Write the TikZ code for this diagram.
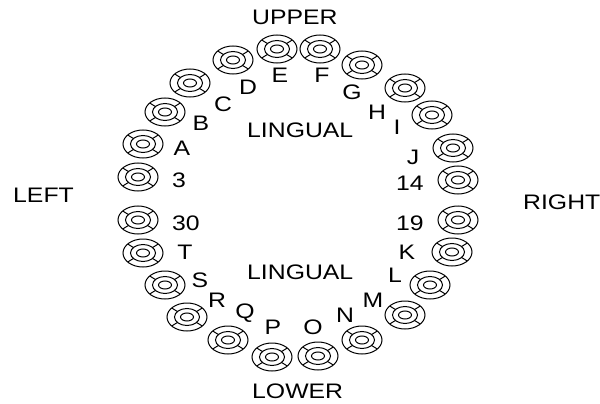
\documentclass[tikz,border=0pt]{standalone}
\usepackage{fontspec}
\newfontfamily\chartfont[FakeStretch=1.18]{Liberation Sans}
\usepackage{tikz}
\usetikzlibrary{positioning}

\tikzset{
  lbl/.style={font=\chartfont\fontsize{21}{21}\selectfont, inner sep=0pt},
  tooth/.pic={
    \draw[line width=1pt] (0,0) ellipse [x radius=20pt, y radius=14pt];
    \draw[line width=1pt] (0,0) ellipse [x radius=12.5pt, y radius=8.5pt];
    \draw[line width=1pt] (0,0) ellipse [x radius=6.5pt, y radius=4pt];
    \foreach \a in {40,140,220,320}
      \draw[line width=1pt] ({12.5*cos(\a)},{8.5*sin(\a)}) -- ({20*cos(\a)},{14*sin(\a)});
  }
}

\begin{document}
\begin{tikzpicture}[x=1pt,y=-1pt]
        \useasboundingbox (0,0) rectangle (600,404);

        % Teeth
        \foreach \x/\y in {277/49, 320/49, 233/60, 362/65, 190/83, 405/88,
                           165/112, 432/115, 143/144, 453/148, 138/177, 458/180,
                           138/220, 458/220, 143/253, 452/252, 165/285, 430/285,
                           187/317, 405/315, 228/340, 362/340, 272/357, 318/356}
            \pic at (\x,\y) {tooth};

        % Tooth labels
        \foreach \t/\x/\y in {E/280/75, F/322/75, D/248/87, G/352/92, C/223/104,
                              H/377/112, B/201/123, I/397/127, A/182/148, J/413/157,
                              3/179/180, 14/410/183, 30/186/223, 19/410/223,
                              T/185/252, K/407/252, S/200/280, L/395/275,
                              R/217/300, M/373/300, Q/245/313, N/345/315,
                              P/273/327, O/313/327}
            \node[lbl] (lab\t) at (\x,\y) {\t};

        % Sides
        \node[lbl, anchor=west] (upper) at (252,17) {UPPER};
        \node[lbl, anchor=west] (lower) at (252,391) {LOWER};
        \node[lbl, anchor=west] (lingualup) at (247,130.5) {LINGUAL};
        \node[lbl, anchor=west] (linguallow) at (247,272.5) {LINGUAL};
        \node[lbl, anchor=west] (left) at (13,195) {LEFT};
        \node[lbl, anchor=west] (right) at (523,202.5) {RIGHT};
\end{tikzpicture}
\end{document}
